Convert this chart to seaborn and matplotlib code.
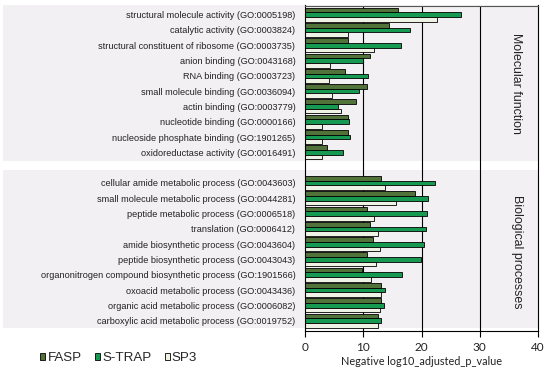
import matplotlib
matplotlib.use("Agg")
import matplotlib.pyplot as plt
import matplotlib.transforms as mtransforms
from matplotlib.patches import Rectangle
import seaborn as sns
import pandas as pd

# ---- data ----
mf_terms = [
    "structural molecule activity (GO:0005198)",
    "catalytic activity (GO:0003824)",
    "structural constituent of ribosome (GO:0003735)",
    "anion binding (GO:0043168)",
    "RNA binding (GO:0003723)",
    "small molecule binding (GO:0036094)",
    "actin binding (GO:0003779)",
    "nucleotide binding (GO:0000166)",
    "nucleoside phosphate binding (GO:1901265)",
    "oxidoreductase activity (GO:0016491)",
]
bp_terms = [
    "cellular amide metabolic process (GO:0043603)",
    "small molecule metabolic process (GO:0044281)",
    "peptide metabolic process (GO:0006518)",
    "translation (GO:0006412)",
    "amide biosynthetic process (GO:0043604)",
    "peptide biosynthetic process (GO:0043043)",
    "organonitrogen compound biosynthetic process (GO:1901566)",
    "oxoacid metabolic process (GO:0043436)",
    "organic acid metabolic process (GO:0006082)",
    "carboxylic acid metabolic process (GO:0019752)",
]
methods = ["FASP", "S-TRAP", "SP3"]

mf_fasp = [15.9, 14.5, 7.4, 11.2, 6.9, 10.7, 8.7, 7.3, 7.3, 3.7]
mf_strap = [26.8, 18.1, 16.4, 10.0, 10.9, 9.3, 5.7, 7.6, 7.7, 6.6]
mf_sp3 = [22.6, 7.4, 11.9, 4.3, 4.1, 4.6, 6.2, 3.0, 3.0, 3.0]

bp_fasp = [13.0, 18.8, 10.6, 11.1, 11.7, 10.6, 9.8, 13.0, 13.0, 12.6]
bp_strap = [22.4, 21.2, 21.0, 20.8, 20.4, 19.9, 16.7, 13.7, 13.5, 13.1]
bp_sp3 = [13.8, 15.6, 11.8, 12.6, 12.9, 12.2, 11.4, 13.0, 12.9, 12.5]

group_labels = ["Molecular function", "Biological processes"]
xticks = [0, 10, 20, 30, 40]
xlabel = "Negative log10_adjusted_p_value"

colors = ["#4f7d2f", "#00b050", "#eef5e4"]

# ---- build long table ----
rows = []
for terms, series in [(mf_terms, [mf_fasp, mf_strap, mf_sp3]),
                      (bp_terms, [bp_fasp, bp_strap, bp_sp3])]:
    for m, vals in zip(methods, series):
        for t, v in zip(terms, vals):
            rows.append({"term": t, "method": m, "value": v})
df = pd.DataFrame(rows)

spacer = " "
order = mf_terms + [spacer] + bp_terms

sns.set_theme(style="white")
plt.rcParams["font.family"] = ["Liberation Sans", "DejaVu Sans"]

fig = plt.figure(figsize=(5.5, 3.78), dpi=100)
ax = fig.add_axes([305 / 550, 1 - 331 / 378, (538 - 305) / 550, (331 - 5.5) / 378])
ax.set_facecolor("white")

sns.barplot(data=df, y="term", x="value", hue="method", order=order,
            hue_order=methods, palette=colors, orient="h", width=0.92,
            gap=0, edgecolor="black", linewidth=0.6, ax=ax, legend=True)
for p in ax.patches:
    p.set_zorder(3)

ax.set_xlim(0, 40)
ax.set_ylim(20.676, -0.598)
ax.set_xticks(xticks)
ax.set_xticklabels([str(t) for t in xticks], fontfamily="Lato", fontsize=8.5,
                   color="#222222")
ax.set_xlabel(xlabel, fontfamily="Lato", fontsize=7.8, color="#222222",
              labelpad=2)
ax.set_ylabel("")
ax.tick_params(axis="y", length=0, pad=7, labelsize=6.6, labelcolor="#222222")
ax.tick_params(axis="x", length=4, width=0.8, color="black", direction="out",
               bottom=True, pad=4)

# gridlines
ax.grid(False)
for xv in xticks[1:-1]:
    ax.axvline(xv, color="black", linewidth=0.8, zorder=1)
for s in ax.spines.values():
    s.set_visible(True)
    s.set_color("black")
    s.set_linewidth(0.8)
    s.set_zorder(4)
ax.spines["top"].set_color("#555555")

# gray group backgrounds extending into label area
trans = mtransforms.blended_transform_factory(fig.transFigure, ax.transData)
x0 = 3 / 550
w = 538 / 550 - x0
for (y0, y1) in [(-0.63, 9.57), (10.15, 20.48)]:
    r = Rectangle((x0, y0), w, y1 - y0, transform=trans, facecolor="#f2f0f2",
                  edgecolor="none", clip_on=False, zorder=0.1)
    ax.add_patch(r)

# group labels
ax.text(36.3, 4.47, group_labels[0], rotation=-90, ha="center", va="center",
        fontsize=8.9, color="#222222")
ax.text(36.4, 15.5, group_labels[1], rotation=-90, ha="center", va="center",
        fontsize=8.9, color="#222222")

# legend
handles, labels = ax.get_legend_handles_labels()
ax.get_legend().remove()
fig.legend(handles, labels, loc="center", bbox_to_anchor=(118.7 / 550, 1 - 358 / 378),
           ncol=3, frameon=False, fontsize=9.6, handlelength=0.38,
           handleheight=0.38, handletextpad=0.15, columnspacing=1.0,
           borderpad=0)

fig.savefig("out.png", dpi=100)
